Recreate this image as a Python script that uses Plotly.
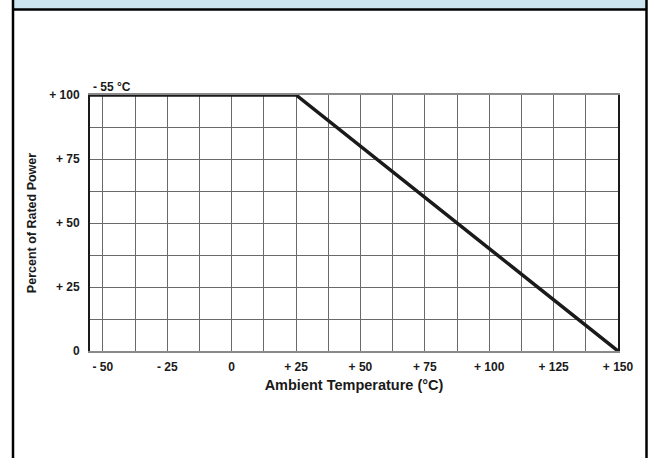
import plotly.graph_objects as go

# Data
temperature = [-55, 25, 150]
rated_power = [100, 100, 0]

x_tick_vals = [-50, -37.5, -25, -12.5, 0, 12.5, 25, 37.5, 50, 62.5, 75, 87.5, 100, 112.5, 125, 137.5, 150]
x_tick_text = ["- 50", "", "- 25", "", "0", "", "+ 25", "", "+ 50", "", "+ 75", "", "+ 100", "", "+ 125", "", "+ 150"]
y_tick_vals = [0, 12.5, 25, 37.5, 50, 62.5, 75, 87.5, 100]
y_tick_text = ["0", "", "+ 25", "", "+ 50", "", "+ 75", "", "+ 100"]

FW, FH = 648, 458
ML, MR, MT, MB = 90, 30, 95, 107
PW = FW - ML - MR
PH = FH - MT - MB

def px2paper_x(px):
    return (px - ML) / PW

def px2paper_y(py):
    return 1 - (py - MT) / PH

FONT = "Liberation Sans, Arial, sans-serif"

fig = go.Figure()
fig.add_trace(go.Scatter(
    x=temperature, y=rated_power, mode="lines",
    line=dict(color="#1a1a1a", width=3.5),
    hoverinfo="skip", showlegend=False,
))

fig.update_layout(
    width=FW, height=FH,
    margin=dict(l=ML, r=MR, t=MT, b=MB),
    paper_bgcolor="white", plot_bgcolor="white",
    font=dict(family=FONT, color="#1a1a1a"),
    xaxis=dict(
        range=[-55, 150], tickvals=x_tick_vals, ticktext=x_tick_text,
        showgrid=True, gridcolor="#6a6a6a", gridwidth=1,
        showline=True, linecolor="#8a8a8a", linewidth=1.5, mirror=True,
        zeroline=False, ticks="", ticklabelstandoff=4,
        tickfont=dict(family=FONT, size=12, color="#1a1a1a", weight="bold"),
        title=dict(text="<b>Ambient Temperature (°C)</b>", font=dict(size=14.5), standoff=7),
    ),
    yaxis=dict(
        range=[0, 100], tickvals=y_tick_vals, ticktext=y_tick_text,
        showgrid=True, gridcolor="#6a6a6a", gridwidth=1,
        showline=True, linecolor="#1a1a1a", linewidth=2, mirror=True,
        zeroline=False, ticks="", ticklabelstandoff=6,
        tickfont=dict(family=FONT, size=12, color="#1a1a1a", weight="bold"),
        title=dict(text="<b>Percent of Rated Power</b>", font=dict(size=12.5), standoff=10),
    ),
    annotations=[dict(
        text="<b>- 55 °C</b>", xref="paper", yref="paper",
        x=px2paper_x(91), y=px2paper_y(87), xanchor="left", yanchor="middle",
        showarrow=False, font=dict(size=12, family=FONT, color="#1a1a1a"),
    )],
    shapes=[
        dict(type="rect", xref="paper", yref="paper",
             x0=px2paper_x(13), x1=px2paper_x(647), y0=px2paper_y(0), y1=px2paper_y(10),
             fillcolor="#cde4f1", line=dict(width=0), layer="below"),
        dict(type="line", xref="paper", yref="paper",
             x0=px2paper_x(13), x1=px2paper_x(647), y0=px2paper_y(9.5), y1=px2paper_y(9.5),
             line=dict(color="black", width=2.5)),
        dict(type="line", xref="paper", yref="paper",
             x0=px2paper_x(13), x1=px2paper_x(13), y0=px2paper_y(0), y1=px2paper_y(458),
             line=dict(color="black", width=2.5)),
        dict(type="line", xref="paper", yref="paper",
             x0=px2paper_x(646.5), x1=px2paper_x(646.5), y0=px2paper_y(0), y1=px2paper_y(458),
             line=dict(color="black", width=2.5)),
    ],
)

fig.write_html(
    "out.html",
    config={"displayModeBar": False},
    post_script="document.body.style.margin='0';document.body.style.padding='0';",
)
